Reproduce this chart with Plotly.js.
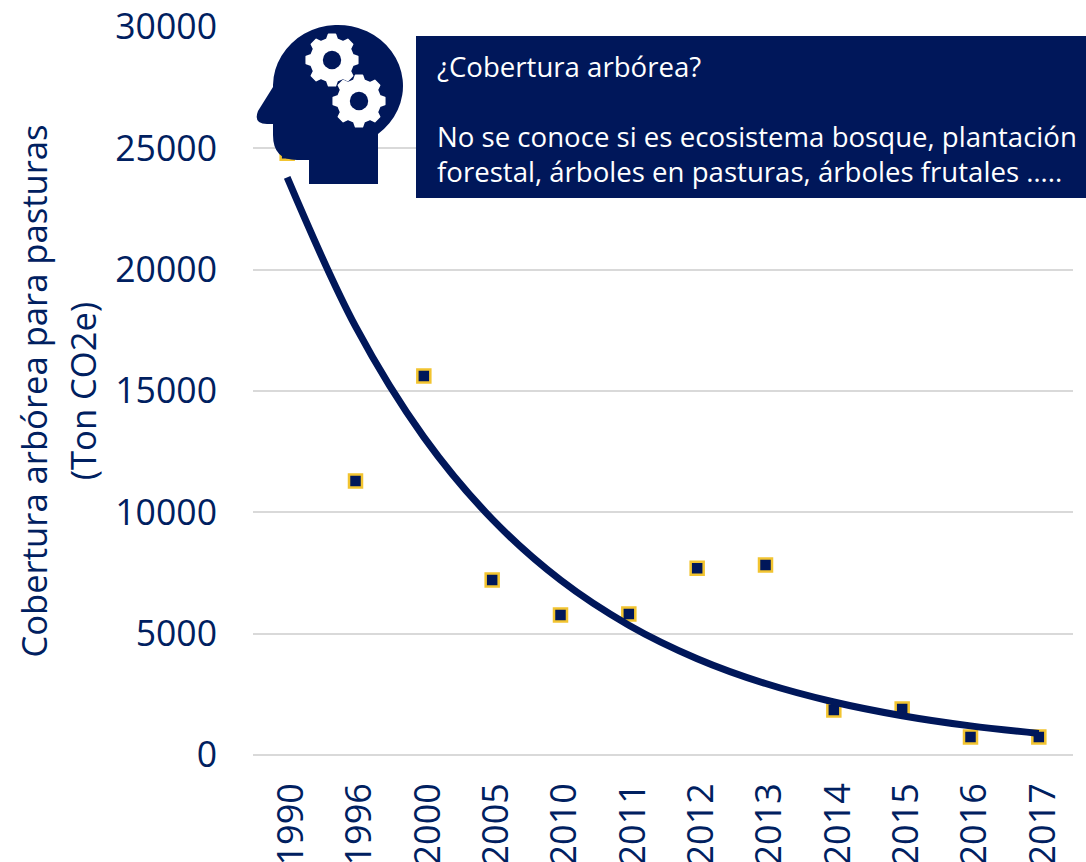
<!DOCTYPE html>
<html><head><meta charset="utf-8">
<script src="https://cdn.plot.ly/plotly-3.0.1.min.js"></script>
<style>html,body{margin:0;padding:0;background:#fff;overflow:hidden}</style>
</head><body><div id="chart" style="width:1086px;height:862px"></div>
<script>
const years = ['1990','1996','2000','2005','2010','2011','2012','2013','2014','2015','2016','2017'];
const carbon = [24800,11290,15620,7210,5770,5810,7700,7830,1850,1900,740,740];
const trend = [23800,17660,13100,9720,7210,5350,3970,2945,2185,1620,1200,890];
const yTicks = [0,5000,10000,15000,20000,25000,30000];
const navy = '#00175a', inkBlue = '#002060', gold = '#f2c430', grid = '#d9d9d9', font = '"Open Sans", sans-serif';

// Decorative head-with-gears icon, an SVG in its own pixel box
const L = 253, T = 27, W = 820, H = 728;
function gear(cx, cy) {
  const n = 8, ro = 26, ri = 21.5;
  let d = '';
  for (let i = 0; i < n; i++) {
    const a = i * 2 * Math.PI / n, w = Math.PI / n;
    const pts = [[ri, a - w * 0.62], [ro, a - w * 0.34], [ro, a + w * 0.34], [ri, a + w * 0.62]];
    pts.forEach((p, j) => {
      d += (i === 0 && j === 0 ? 'M' : 'L') + (cx + p[0] * Math.cos(p[1])).toFixed(1) + ' ' + (cy + p[0] * Math.sin(p[1])).toFixed(1);
    });
  }
  d += 'Z';
  return `<path d="${d}" fill="#fff" stroke="#fff" stroke-width="1.5" stroke-linejoin="round"/><circle cx="${cx}" cy="${cy}" r="9.2" fill="${navy}"/>`;
}
// icon box: x 250..410, y 20..190
const head = `M23 67 L8 91 Q3 104 17 104 L23 104 L23 115 Q23 140 47 140 L59 140 L59 164 L128 164 L128 114 A65 61 0 1 0 23 65 Z`;
const svg = `<svg xmlns="http://www.w3.org/2000/svg" width="160" height="170" viewBox="0 0 160 170"><path d="${head}" fill="${navy}"/>${gear(82,40)}${gear(109,81)}</svg>`;
const icon = 'data:image/svg+xml;base64,' + btoa(svg);

const px = x => (x - L) / W, py = y => (T + H - y) / H;

const data = [
  {type:'scatter', mode:'markers', x:years, y:carbon, cliponaxis:false, showlegend:false,
   marker:{symbol:'square', size:13, color:navy, line:{color:gold, width:2.5}}},
  {type:'scatter', mode:'lines', x:years, y:trend, cliponaxis:false, showlegend:false,
   line:{color:navy, width:7, shape:'spline', smoothing:1}}
];
const noteAnn = (text, y) => ({xref:'paper', yref:'paper', x:px(435), y:py(y), xanchor:'left', yanchor:'middle',
  showarrow:false, text, align:'left', font:{family:font, size:27.6, color:'#fff'}});
const layout = {
  width:1086, height:862, paper_bgcolor:'#fff', plot_bgcolor:'#fff', showlegend:false,
  margin:{l:L, r:1086-L-W, t:T, b:862-T-H, pad:0},
  font:{family:font, color:inkBlue},
  xaxis:{type:'category', categoryorder:'array', categoryarray:years, range:[-0.5,11.5],
    tickangle:-90, tickfont:{family:font, size:36, color:inkBlue}, showgrid:false, ticklabelstandoff:20, ticklabelshift:4,
    showline:false, zeroline:false, ticks:'', ticklen:0, automargin:false, tickmode:'array', tickvals:years, ticktext:years},
  yaxis:{range:[0,30000], tickmode:'array', tickvals:yTicks, ticktext:yTicks.map(String), ticklabelstandoff:35,
    tickfont:{family:font, size:35.6, color:inkBlue}, gridcolor:grid, gridwidth:2, showline:false,
    zeroline:true, zerolinecolor:grid, zerolinewidth:2, ticks:'', automargin:false,
    title:{text:'<span style="font-size:34.6px">Cobertura arbórea para pasturas</span><br><span style="font-size:34.6px">(Ton CO2e)</span>', font:{family:font, size:38, color:inkBlue}, standoff:6}},
  shapes:[{type:'rect', layer:'above', xref:'paper', yref:'paper', x0:px(416), x1:px(1086), y0:py(198), y1:py(36),
    fillcolor:navy, line:{width:0}}],
  images:[{source:icon, xref:'paper', yref:'paper', x:px(250), y:py(20), sizex:160/W, sizey:170/H,
    xanchor:'left', yanchor:'top', sizing:'stretch', layer:'above'}],
  annotations:[
    noteAnn('¿Cobertura arbórea?', 66),
    noteAnn('No se conoce si es ecosistema bosque, plantación', 136),
    noteAnn('forestal, árboles en pasturas, árboles frutales …..', 171)
  ]
};
Plotly.newPlot('chart', data, layout, {displayModeBar:false, responsive:false});
</script></body></html>
